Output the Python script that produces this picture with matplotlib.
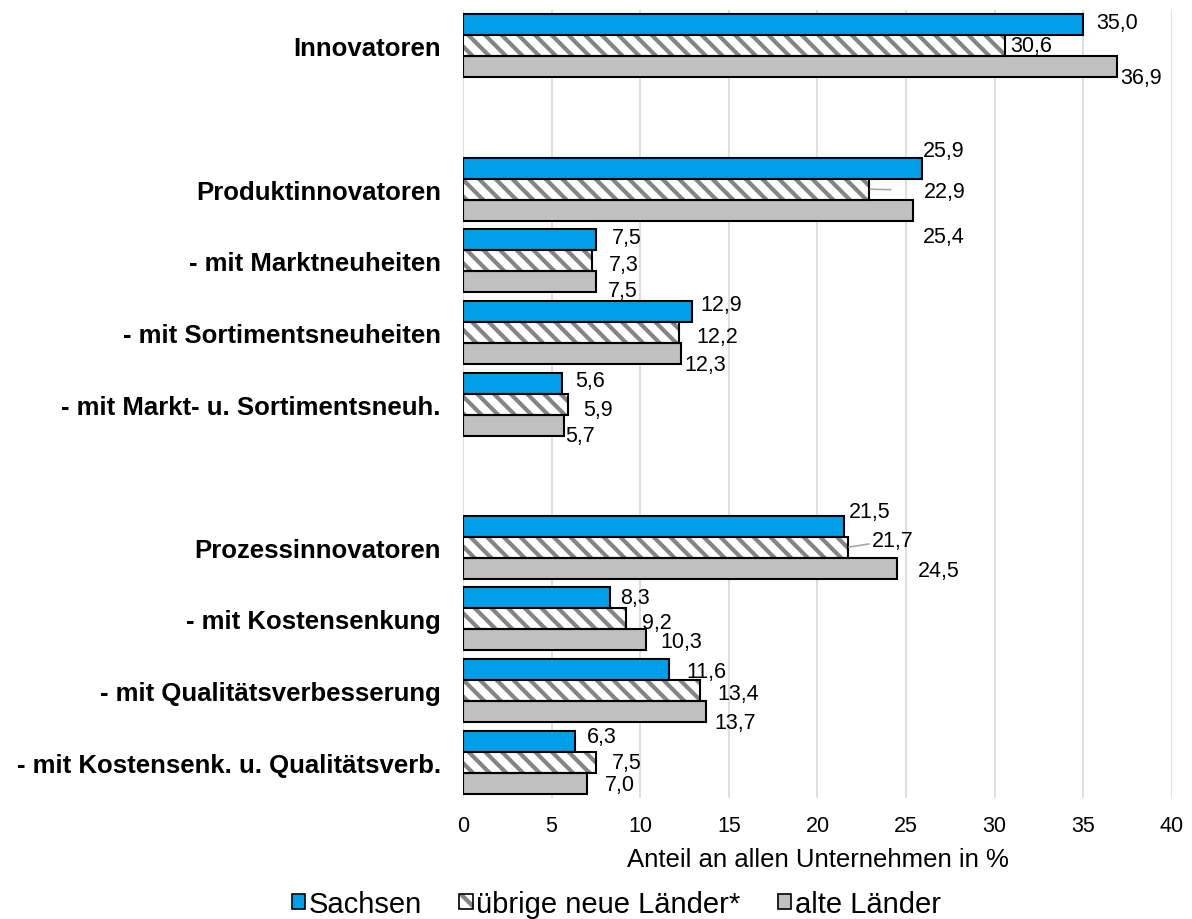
import numpy as np
import matplotlib
matplotlib.use("Agg")
from matplotlib import pyplot as plt
from matplotlib.patches import Patch

plt.rcParams['font.family'] = ['Liberation Sans', 'DejaVu Sans']
plt.rcParams['hatch.linewidth'] = 3.0

# category slots (empty string = gap between groups)
categories = ["Innovatoren", "",
              "Produktinnovatoren", "- mit Marktneuheiten", "- mit Sortimentsneuheiten",
              "- mit Markt- u. Sortimentsneuh.", "",
              "Prozessinnovatoren", "- mit Kostensenkung", "- mit Qualitätsverbesserung",
              "- mit Kostensenk. u. Qualitätsverb."]

series_names = ["Sachsen", "übrige neue Länder*", "alte Länder"]
sachsen = [35.0, 25.9, 7.5, 12.9, 5.6, 21.5, 8.3, 11.6, 6.3]
uebrige = [30.6, 22.9, 7.3, 12.2, 5.9, 21.7, 9.2, 13.4, 7.5]
alte = [36.9, 25.4, 7.5, 12.3, 5.7, 24.5, 10.3, 13.7, 7.0]

# manual label offsets in pixels (dx right, dy down) like in the original
off_sachsen = [(34, -2), (22, -18), (31, -2), (30, -7), (28, -3), (26, -15), (25, 0), (38, 2), (27, -5)]
off_uebrige = [(26, 0), (76, 2), (31, 4), (38, 4), (30, 5), (45, -7), (31, 4), (38, 3), (31, 0)]
off_alte = [(24, 11), (31, 26), (27, 9), (24, 11), (16, 10), (42, 2), (36, 2), (29, 11), (33, 1)]
leader = [False, True, False, False, False, True, False, False, False]

blue = '#009FEA'
grey = '#C0C0C0'
hatch_col = '#858585'

slots = [i for i, c in enumerate(categories) if c != ""]
ypos = np.array(slots, dtype=float)
h = 0.293

fig = plt.figure(figsize=(11.92, 9.2), dpi=100)
ax = fig.add_axes([0.3884, 0.1315, 0.5948, 0.8565])

# Sachsen
ax.barh(ypos - h, sachsen, height=h, color=blue, edgecolor='black', linewidth=1.5, zorder=3)
# übrige neue Länder: hatch layer + black outline
ax.barh(ypos, uebrige, height=h, color='white', edgecolor=hatch_col, hatch='\\\\', linewidth=0, zorder=3)
ax.barh(ypos, uebrige, height=h, fill=False, edgecolor='black', linewidth=1.5, zorder=4)
# alte Länder
ax.barh(ypos + h, alte, height=h, color=grey, edgecolor='black', linewidth=1.5, zorder=3)

def fmt(v):
    return f"{v:.1f}".replace('.', ',')

px = 0.72  # points per pixel at 100 dpi
for vals, offs, shift, lead in [(sachsen, off_sachsen, -h, None),
                                (uebrige, off_uebrige, 0, leader),
                                (alte, off_alte, h, None)]:
    for i, (v, (dx, dy)) in enumerate(zip(vals, offs)):
        kw = {}
        if lead is not None and lead[i]:
            kw['arrowprops'] = dict(arrowstyle='-', color='#A6A6A6', lw=1.2,
                                    shrinkA=22, shrinkB=1)
        ax.annotate(fmt(v), xy=(v, ypos[i] + shift), xytext=(dx * px, -dy * px),
                    textcoords='offset points', ha='center', va='center',
                    fontsize=15.5, zorder=5, **kw)

ax.set_xlim(0, 40)
ax.set_ylim(len(categories) - 0.5, -0.5)
ax.set_xticks(np.arange(0, 41, 5))
ax.set_yticks(slots)
ax.set_yticklabels([categories[i] for i in slots], fontsize=18.5, fontweight='bold')
ax.tick_params(axis='y', length=0, pad=16)
ax.tick_params(axis='x', length=0, pad=12, labelsize=15.5)
ax.grid(axis='x', color='#D9D9D9', linewidth=1.2, zorder=0)
for s in ax.spines.values():
    s.set_visible(False)
ax.set_xlabel("Anteil an allen Unternehmen in %", fontsize=18.5, labelpad=8)

handles = [Patch(facecolor=blue, edgecolor='black', linewidth=1.2),
           (Patch(facecolor='white', edgecolor=hatch_col, hatch='\\\\', linewidth=0),
            Patch(fill=False, edgecolor='black', linewidth=1.2)),
           Patch(facecolor=grey, edgecolor='black', linewidth=1.2)]
fig.legend(handles, series_names, loc='center', bbox_to_anchor=(0.517, 0.0163),
           ncol=3, frameon=False, fontsize=21, handlelength=0.45, handleheight=0.45,
           handletextpad=0.12, columnspacing=1.3)

plt.savefig("out.png", dpi=100)
